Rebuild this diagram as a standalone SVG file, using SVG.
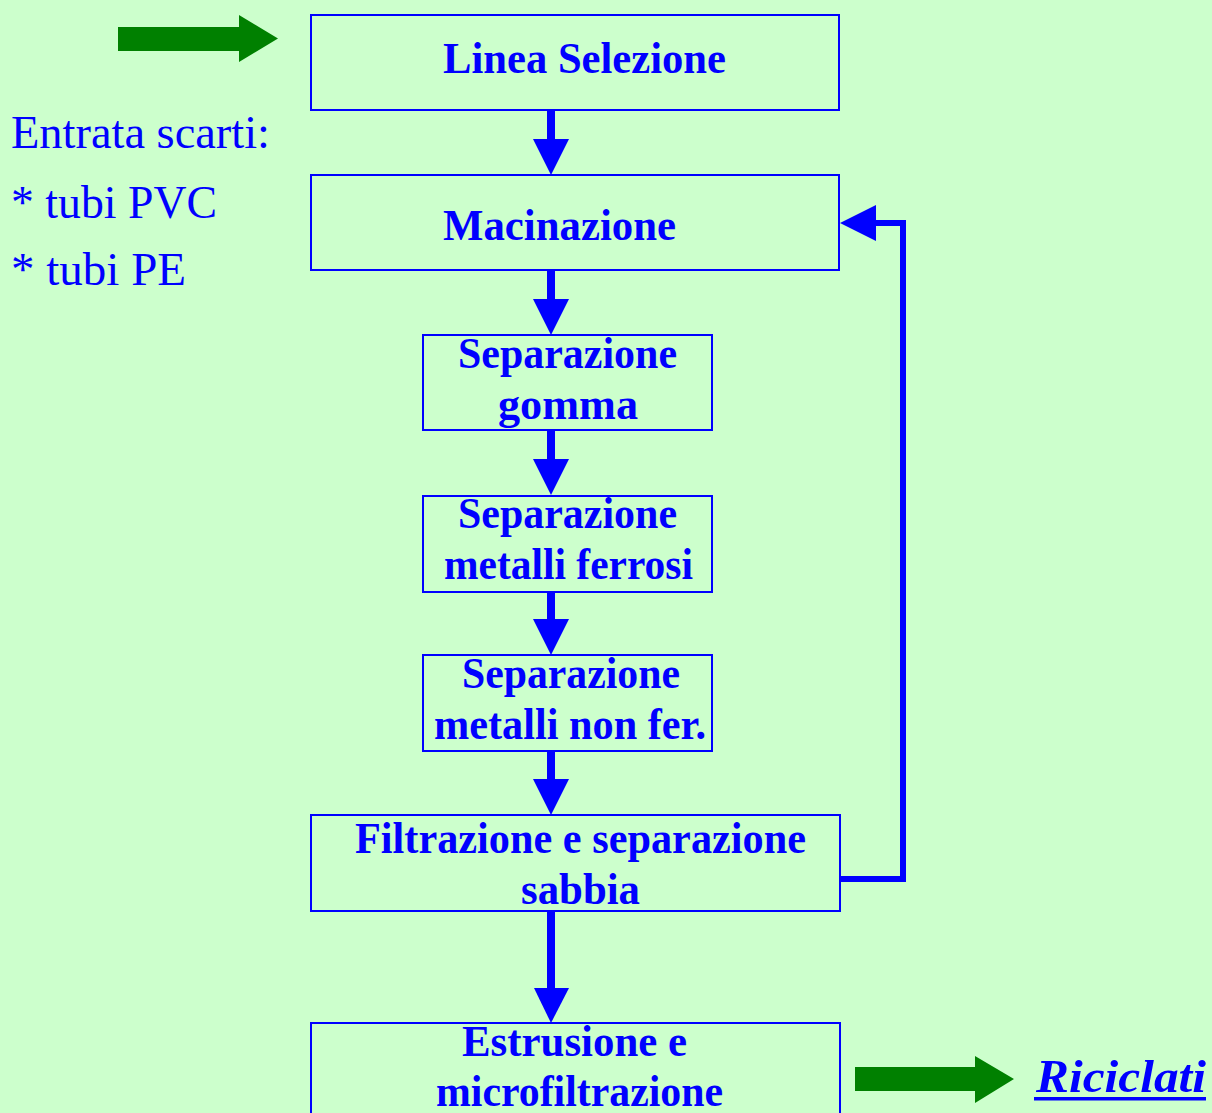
<svg xmlns="http://www.w3.org/2000/svg" width="1212" height="1113" viewBox="0 0 1212 1113">
  <style>
    .box { fill: none; stroke: #0000FF; stroke-width: 2; }
    .lbl { font-family: "Liberation Serif", "Times New Roman", serif; font-weight: bold; font-size: 45px; fill: #0000FF; }
    .note { font-family: "Liberation Serif", "Times New Roman", serif; font-size: 47px; fill: #0000FF; }
    .shaft { stroke: #0000FF; stroke-width: 8; fill: none; }
    .loop { stroke: #0000FF; stroke-width: 6; fill: none; }
    .head { fill: #0000FF; }
    .green { fill: #008000; }
  </style>
  <rect width="1212" height="1113" fill="#CCFFCC"/>

  <!-- input arrow -->
  <polygon class="green" points="118,27 239,27 239,15 278,38.5 239,62 239,51 118,51"/>

  <!-- incoming waste list -->
  <g id="input-notes">
    <text class="note" x="11" y="148" textLength="259" lengthAdjust="spacingAndGlyphs">Entrata scarti:</text>
    <text class="note" x="11" y="218" textLength="206" lengthAdjust="spacingAndGlyphs">* tubi PVC</text>
    <text class="note" x="11" y="285" textLength="175" lengthAdjust="spacingAndGlyphs">* tubi PE</text>
  </g>

  <g id="linea-selezione">
    <rect class="box" x="311" y="15" width="528" height="95"/>
    <text class="lbl" x="443" y="73" textLength="283" lengthAdjust="spacingAndGlyphs">Linea Selezione</text>
  </g>

  <g id="macinazione">
    <rect class="box" x="311" y="175" width="528" height="95"/>
    <text class="lbl" x="443" y="240" textLength="233" lengthAdjust="spacingAndGlyphs">Macinazione</text>
  </g>

  <g id="separazione-gomma">
    <rect class="box" x="423" y="335" width="289" height="95"/>
    <text class="lbl" x="458" y="368" textLength="219" lengthAdjust="spacingAndGlyphs">Separazione</text>
    <text class="lbl" x="498" y="419" textLength="140" lengthAdjust="spacingAndGlyphs">gomma</text>
  </g>

  <g id="separazione-ferrosi">
    <rect class="box" x="423" y="496" width="289" height="96"/>
    <text class="lbl" x="458" y="528" textLength="219" lengthAdjust="spacingAndGlyphs">Separazione</text>
    <text class="lbl" x="444" y="579" textLength="249" lengthAdjust="spacingAndGlyphs">metalli ferrosi</text>
  </g>

  <g id="separazione-non-ferrosi">
    <rect class="box" x="423" y="655" width="289" height="96"/>
    <text class="lbl" x="462" y="688" textLength="218" lengthAdjust="spacingAndGlyphs">Separazione</text>
    <text class="lbl" x="434" y="739" textLength="272" lengthAdjust="spacingAndGlyphs">metalli non fer.</text>
  </g>

  <g id="filtrazione-sabbia">
    <rect class="box" x="311" y="815" width="529" height="96"/>
    <text class="lbl" x="355" y="853" textLength="451" lengthAdjust="spacingAndGlyphs">Filtrazione e separazione</text>
    <text class="lbl" x="521" y="904" textLength="119" lengthAdjust="spacingAndGlyphs">sabbia</text>
  </g>

  <g id="estrusione">
    <rect class="box" x="311" y="1023" width="529" height="100"/>
    <text class="lbl" x="462" y="1056" textLength="225" lengthAdjust="spacingAndGlyphs">Estrusione e</text>
    <text class="lbl" x="436" y="1106" textLength="287" lengthAdjust="spacingAndGlyphs">microfiltrazione</text>
  </g>

  <!-- output arrow and product -->
  <polygon class="green" points="855,1067 975,1067 975,1056 1014,1079 975,1103 975,1091 855,1091"/>
  <g id="riciclati">
    <text x="1036" y="1092" textLength="170" lengthAdjust="spacingAndGlyphs" font-family="'Liberation Serif', 'Times New Roman', serif" font-weight="bold" font-style="italic" font-size="47" fill="#0000FF">Riciclati</text>
    <rect x="1034" y="1097" width="172" height="3.5" fill="#0000FF"/>
  </g>

  <g id="connectors">
    <line class="shaft" x1="551" y1="110" x2="551" y2="142"/>
    <polygon class="head" points="533,139 569,139 551,175"/>
    <line class="shaft" x1="551" y1="270" x2="551" y2="302"/>
    <polygon class="head" points="533,299 569,299 551,335"/>
    <line class="shaft" x1="551" y1="430" x2="551" y2="462"/>
    <polygon class="head" points="533,459 569,459 551,495"/>
    <line class="shaft" x1="551" y1="592" x2="551" y2="622"/>
    <polygon class="head" points="533,619 569,619 551,655"/>
    <line class="shaft" x1="551" y1="751" x2="551" y2="782"/>
    <polygon class="head" points="533,779 569,779 551,815"/>
    <line class="shaft" x1="551" y1="911" x2="551" y2="991"/>
    <polygon class="head" points="534,988 569,988 551,1023"/>
    <!-- recirculation loop back to grinding -->
    <polyline class="loop" points="840,879 903,879 903,223 872,223"/>
    <polygon class="head" points="840,223 876,205 876,241"/>
  </g>
</svg>
